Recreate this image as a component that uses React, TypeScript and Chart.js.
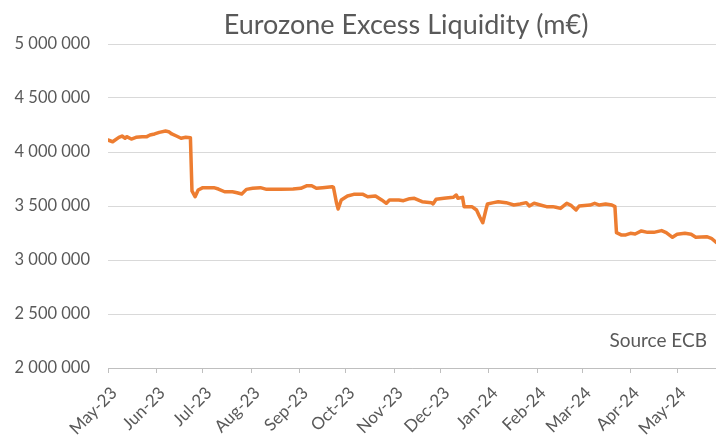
import React, { useEffect, useRef } from "react";
import { Chart, registerables } from "chart.js";

Chart.register(...registerables);

const titleText = "Eurozone Excess Liquidity (m€)";
const sourceText = "Source ECB";
const startDate = "2023-05-01";

const monthTickDates = [
  "2023-05-01", "2023-06-01", "2023-07-01", "2023-08-01", "2023-09-01",
  "2023-10-01", "2023-11-01", "2023-12-01", "2024-01-01", "2024-02-01",
  "2024-03-01", "2024-04-01", "2024-05-01",
];
const monthLabels = [
  "May-23", "Jun-23", "Jul-23", "Aug-23", "Sep-23", "Oct-23", "Nov-23",
  "Dec-23", "Jan-24", "Feb-24", "Mar-24", "Apr-24", "May-24",
];

const yTickMin = 2000000;
const yTickMax = 5000000;
const yTickStep = 500000;

const dates = [
  "2023-05-01", "2023-05-04", "2023-05-08", "2023-05-10", "2023-05-12", "2023-05-13",
  "2023-05-16", "2023-05-19", "2023-05-23", "2023-05-26", "2023-05-28", "2023-05-31",
  "2023-06-03", "2023-06-07", "2023-06-09", "2023-06-11", "2023-06-14", "2023-06-17",
  "2023-06-20", "2023-06-23", "2023-06-24", "2023-06-26", "2023-06-28", "2023-07-01",
  "2023-07-08", "2023-07-11", "2023-07-15", "2023-07-20", "2023-07-23", "2023-07-26",
  "2023-07-29", "2023-08-02", "2023-08-07", "2023-08-11", "2023-08-20", "2023-08-28",
  "2023-09-02", "2023-09-06", "2023-09-09", "2023-09-12", "2023-09-16", "2023-09-22",
  "2023-09-23", "2023-09-25", "2023-09-26", "2023-09-28", "2023-10-02", "2023-10-06",
  "2023-10-12", "2023-10-15", "2023-10-20", "2023-10-24", "2023-10-27", "2023-10-29",
  "2023-11-04", "2023-11-07", "2023-11-11", "2023-11-14", "2023-11-19", "2023-11-25",
  "2023-11-26", "2023-11-28", "2023-12-03", "2023-12-09", "2023-12-11", "2023-12-12",
  "2023-12-15", "2023-12-16", "2023-12-21", "2023-12-24", "2023-12-26", "2023-12-28",
  "2023-12-30", "2023-12-31", "2024-01-04", "2024-01-07", "2024-01-12", "2024-01-17",
  "2024-01-21", "2024-01-25", "2024-01-27", "2024-01-30", "2024-02-03", "2024-02-07",
  "2024-02-11", "2024-02-13", "2024-02-16", "2024-02-20", "2024-02-23", "2024-02-26",
  "2024-02-28", "2024-03-06", "2024-03-09", "2024-03-12", "2024-03-16", "2024-03-20",
  "2024-03-22", "2024-03-23", "2024-03-26", "2024-03-29", "2024-04-01", "2024-04-04",
  "2024-04-08", "2024-04-12", "2024-04-16", "2024-04-21", "2024-04-24", "2024-04-28",
  "2024-05-01", "2024-05-06", "2024-05-10", "2024-05-13", "2024-05-20", "2024-05-23",
  "2024-05-26",
];

const liquidity = [
  4111000, 4095000, 4136000, 4148000, 4127000, 4142000,
  4120000, 4136000, 4142000, 4142000, 4157000, 4167000,
  4182000, 4194000, 4188000, 4167000, 4148000, 4127000,
  4136000, 4133000, 3640000, 3586000, 3648000, 3670000,
  3670000, 3657000, 3632000, 3632000, 3623000, 3611000,
  3654000, 3664000, 3670000, 3654000, 3654000, 3657000,
  3664000, 3688000, 3688000, 3664000, 3670000, 3679000,
  3672000, 3525000, 3472000, 3556000, 3593000, 3608000,
  3608000, 3586000, 3593000, 3556000, 3525000, 3556000,
  3556000, 3549000, 3568000, 3571000, 3540000, 3531000,
  3519000, 3562000, 3571000, 3580000, 3602000, 3571000,
  3580000, 3494000, 3494000, 3463000, 3401000, 3345000,
  3463000, 3519000, 3531000, 3540000, 3531000, 3509000,
  3519000, 3531000, 3500000, 3525000, 3509000, 3494000,
  3494000, 3488000, 3478000, 3525000, 3503000, 3463000,
  3500000, 3509000, 3525000, 3509000, 3519000, 3509000,
  3494000, 3253000, 3232000, 3232000, 3247000, 3241000,
  3269000, 3256000, 3256000, 3272000, 3253000, 3210000,
  3238000, 3247000, 3238000, 3210000, 3216000, 3201000,
  3164000,
];

const DAY = 86400000;
const dayOf = (s: string) => (Date.parse(s) - Date.parse(startDate)) / DAY;
const fmt = (v: number) => String(v).replace(/\B(?=(\d{3})+(?!\d))/g, " ");

const FONT = "Lato";
const TEXT_COLOR = "#595959";

const textPlugin = {
  id: "extraTexts",
  afterDraw(chart: any) {
    const ctx = chart.ctx;
    const area = chart.chartArea;
    ctx.save();
    ctx.fillStyle = TEXT_COLOR;
    ctx.textBaseline = "middle";
    ctx.textAlign = "center";
    ctx.font = `27px ${FONT}`;
    ctx.fillText(titleText, 406, 25);
    ctx.textAlign = "right";
    ctx.font = `19px ${FONT}`;
    ctx.fillText(sourceText, area.right - 9, area.bottom - 27);
    ctx.restore();
  },
};

export default function App() {
  const ref = useRef<HTMLCanvasElement | null>(null);

  useEffect(() => {
    if (!ref.current) return;
    const points = dates.map((d, i) => ({ x: dayOf(d), y: liquidity[i] }));
    const tickDays = monthTickDates.map(dayOf);
    const chart = new Chart(ref.current, {
      type: "line",
      data: {
        datasets: [
          {
            label: "Excess liquidity",
            data: points,
            borderColor: "#ED7D31",
            backgroundColor: "#ED7D31",
            borderWidth: 3.5,
            pointRadius: 0,
            tension: 0,
            borderJoinStyle: "round",
            borderCapStyle: "round",
          },
        ],
      },
      options: {
        responsive: false,
        animation: false,
        devicePixelRatio: 1,
        layout: { padding: { top: 44, left: 0, right: 0, bottom: 0 } },
        plugins: {
          legend: { display: false },
          title: { display: false },
          tooltip: { enabled: false },
        },
        scales: {
          x: {
            type: "linear",
            min: 0,
            max: dayOf(dates[dates.length - 1]),
            afterBuildTicks: (scale: any) => {
              scale.ticks = tickDays.map((v) => ({ value: v }));
            },
            afterFit: (scale: any) => {
              scale.height = 69;
            },
            grid: {
              drawOnChartArea: false,
              drawTicks: true,
              tickLength: 5,
              color: "#bfbfbf",
            },
            border: { display: true, color: "#bfbfbf" },
            ticks: {
              autoSkip: false,
              maxRotation: 45,
              minRotation: 45,
              padding: 10,
              labelOffset: 6,
              color: TEXT_COLOR,
              font: { family: FONT, size: 17 },
              callback: (_v: any, i: number) => monthLabels[i],
            },
          },
          y: {
            type: "linear",
            min: yTickMin,
            max: yTickMax,
            afterFit: (scale: any) => {
              scale.width = 108;
            },
            grid: { color: "#d9d9d9", drawTicks: false, lineWidth: 1 },
            border: { display: false },
            ticks: {
              stepSize: yTickStep,
              padding: 18,
              color: TEXT_COLOR,
              font: { family: FONT, size: 16.5 },
              callback: (v: any) => fmt(Number(v)),
            },
          },
        },
      },
      plugins: [textPlugin],
    } as any);
    return () => chart.destroy();
  }, []);

  return (
    <div style={{ position: "fixed", left: 0, top: 0, width: 716, height: 437, background: "#fff" }}>
      <canvas ref={ref} width={716} height={437} />
    </div>
  );
}
